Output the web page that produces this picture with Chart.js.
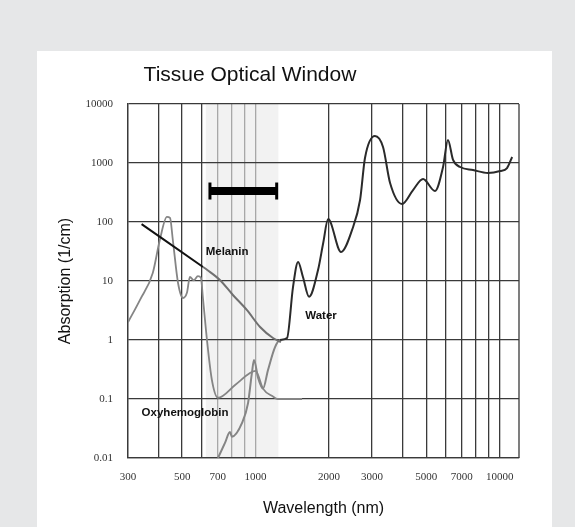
<!DOCTYPE html>
<html>
<head>
<meta charset="utf-8">
<title>Tissue Optical Window</title>
<script src="https://cdn.jsdelivr.net/npm/chart.js@4/dist/chart.umd.min.js"></script>
<style>
  html, body { margin: 0; padding: 0; background: #e6e7e8; }
  body { width: 575px; height: 527px; position: relative; overflow: hidden; }
  #panel { position: absolute; left: 37px; top: 51px; width: 515px; height: 476px; background: #fff; }
  #wrap { position: absolute; left: 0; top: 0; width: 575px; height: 527px; }
</style>
</head>
<body>
<div id="panel"></div>
<div id="wrap"><canvas id="chart" width="575" height="527"></canvas></div>
<script>
// ---- data ----
const oxyNm  = [300, 336, 379, 405, 433, 446, 458, 481, 504, 523, 538, 558, 580, 597, 608, 632, 662, 701, 824, 948, 1000, 1072, 1178, 1230, 1550];
const oxyAbs = [2, 4.8, 13.7, 49.5, 122, 117, 49.5, 9.25, 5.15, 6.3, 11.7, 10.3, 12.1, 11.3, 5.3, 1, 0.21, 0.105, 0.173, 0.275, 0.3, 0.15, 0.11, 0.1, 0.1];

const melaninNm  = [341, 609, 632, 714, 807, 922, 1043, 1178, 1270];
const melaninAbs = [92, 17.3, 15.5, 10.4, 5.8, 3.2, 1.66, 1.08, 0.92];

const waterNm  = [701, 749, 785, 800, 879, 931, 966, 985, 1023, 1072, 1124, 1200, 1259, 1345, 1423, 1493, 1563, 1656, 1803, 1892, 1982,
                  2239, 2483, 2679, 2806, 3084, 3327, 3556, 3981, 4416, 4853, 5433, 5861, 6138, 6442, 6887, 7780, 8954, 10040, 10720, 11250];
const waterAbs = [0.01, 0.018, 0.0275, 0.023, 0.039, 0.085, 0.28, 0.46, 0.23, 0.15, 0.31, 0.75, 1, 1.08, 7.9, 21, 11.7, 5.4, 15.5, 44, 112,
                  31, 73, 236, 1216, 2870, 1866, 458, 202, 348, 536, 335, 855, 2455, 1125, 855, 761, 678, 731, 822, 1265];

// optical window marker and shaded band (nm)
const windowBarNm = [650, 1220];
const windowBarLevel = 335;
const windowBand = [625, 1240];

// axes
const xGridNm = [300, 400, 500, 600, 700, 800, 900, 1000, 2000, 3000, 4000, 5000, 6000, 7000, 8000, 9000, 10000];
const xTickLabels = [300, 500, 700, 1000, 2000, 3000, 5000, 7000, 10000];
const yTicks = [0.01, 0.1, 1, 10, 100, 1000, 10000];
const yTickLabels = ["0.01", "0.1", "1", "10", "100", "1000", "10000"];

// curve labels
const curveLabels = [
  { text: "Melanin", nm: 764, abs: 31 },
  { text: "Water", nm: 1853, abs: 2.55 },
  { text: "Oxyhemoglobin", nm: 514, abs: 0.058 }
];

const pts = (xs, ys) => xs.map((x, i) => ({ x, y: ys[i] }));
const GRID = "#3a3a3a";

// band, frame, labels and title
const decor = {
  id: "decor",
  beforeDraw(chart) {
    const { ctx, chartArea: a, scales: { x } } = chart;
    const x0 = x.getPixelForValue(windowBand[0]);
    const x1 = x.getPixelForValue(windowBand[1]);
    ctx.save();
    ctx.fillStyle = "#f2f2f2";
    ctx.fillRect(x0, a.top, x1 - x0, a.bottom - a.top);
    ctx.restore();
  },
  afterDatasetsDraw(chart) {
    const { ctx, chartArea: a, scales: { x, y } } = chart;
    ctx.save();
    ctx.strokeStyle = GRID;
    ctx.lineWidth = 1.3;
    ctx.beginPath();
    ctx.moveTo(a.right, a.top);
    ctx.lineTo(a.right, a.bottom);
    ctx.stroke();

    ctx.fillStyle = "#111";
    ctx.font = 'bold 11.5px "Liberation Sans", Arial, sans-serif';
    ctx.textAlign = "center";
    ctx.textBaseline = "middle";
    curveLabels.forEach(l => {
      ctx.fillText(l.text, x.getPixelForValue(l.nm), y.getPixelForValue(l.abs));
    });

    ctx.font = '21px "Liberation Sans", Arial, sans-serif';
    ctx.fillText("Tissue Optical Window", 250, 75);
    ctx.restore();
  }
};

new Chart(document.getElementById("chart"), {
  type: "line",
  data: {
    datasets: [
      {
        label: "Window",
        data: pts(windowBarNm, windowBarNm.map(() => windowBarLevel)),
        borderColor: "#000",
        borderWidth: 8,
        borderCapStyle: "butt",
        pointStyle: "line",
        rotation: 90,
        pointRadius: 8.5,
        pointBorderWidth: 3,
        pointBorderColor: "#000"
      },
      {
        label: "Melanin",
        data: pts(melaninNm, melaninAbs),
        borderWidth: 2,
        borderColor: "#555",
        segment: { borderColor: c => c.p0.parsed.x < 600 ? "#111" : "#707070" },
        pointRadius: 0,
        tension: 0.4,
        cubicInterpolationMode: "monotone"
      },
      {
        label: "Water",
        data: pts(waterNm, waterAbs),
        borderWidth: 2,
        borderColor: "#333",
        segment: { borderColor: c => c.p0.parsed.x >= 1259 ? "#2a2a2a" : "#858585" },
        pointRadius: 0,
        cubicInterpolationMode: "monotone"
      },
      {
        label: "Oxyhemoglobin",
        data: pts(oxyNm, oxyAbs),
        borderWidth: 1.8,
        borderColor: "#858585",
        pointRadius: 0,
        cubicInterpolationMode: "monotone"
      }
    ]
  },
  options: {
    responsive: false,
    devicePixelRatio: 1,
    animation: false,
    layout: { padding: { top: 104, right: 56, bottom: 0, left: 0 } },
    plugins: { legend: { display: false }, tooltip: { enabled: false } },
    scales: {
      x: {
        type: "logarithmic",
        min: 300,
        max: 12000,
        afterBuildTicks: s => { s.ticks = xGridNm.map(v => ({ value: v })); },
        afterFit: s => { s.height = 69; },
        grid: {
          drawTicks: false,
          lineWidth: 1.3,
          color: c => (c.tick && c.tick.value > windowBand[0] && c.tick.value < windowBand[1]) ? "#a8a8a8" : GRID
        },
        border: { color: GRID, width: 1.3 },
        ticks: {
          autoSkip: false,
          maxRotation: 0,
          padding: 13,
          color: "#333",
          font: { family: '"Liberation Serif", "Times New Roman", serif', size: 11 },
          callback: v => xTickLabels.includes(v) ? String(v) : ""
        },
        title: {
          display: true,
          text: "Wavelength (nm)",
          color: "#111",
          font: { family: '"Liberation Sans", Arial, sans-serif', size: 16 },
          padding: { top: 0, bottom: 9 }
        }
      },
      y: {
        type: "logarithmic",
        min: 0.01,
        max: 10000,
        afterBuildTicks: s => { s.ticks = yTicks.map(v => ({ value: v })); },
        afterFit: s => { s.width = 128; },
        grid: { drawTicks: false, lineWidth: 1.3, color: GRID },
        border: { color: GRID, width: 1.3 },
        ticks: {
          padding: 15,
          color: "#333",
          font: { family: '"Liberation Serif", "Times New Roman", serif', size: 11 },
          callback: v => {
            const i = yTicks.indexOf(v);
            return i >= 0 ? yTickLabels[i] : "";
          }
        },
        title: {
          display: true,
          text: "Absorption (1/cm)",
          color: "#111",
          font: { family: '"Liberation Sans", Arial, sans-serif', size: 16 },
          padding: { top: 56, bottom: 0 }
        }
      }
    }
  },
  plugins: [decor]
});
</script>
</body>
</html>
